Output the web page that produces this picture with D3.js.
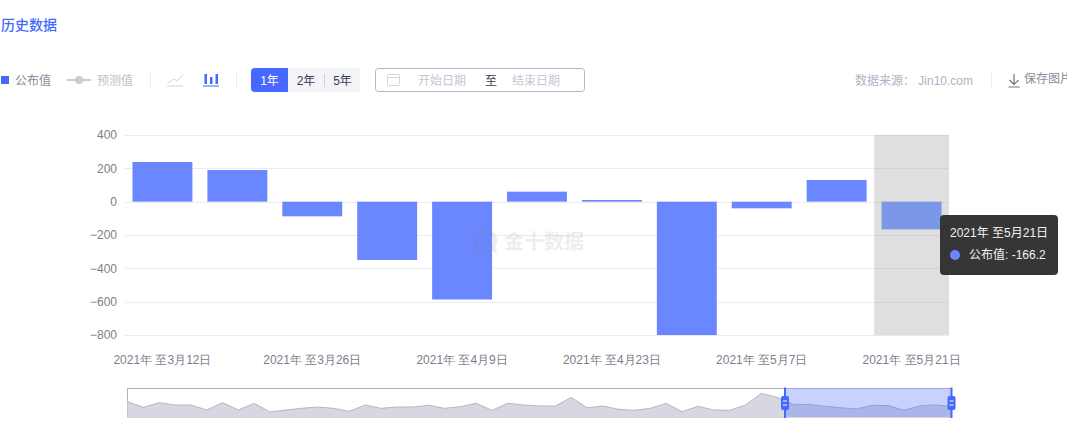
<!DOCTYPE html>
<html>
<head>
<meta charset="utf-8">
<style>
html, body { margin: 0; padding: 0; background: #fff; overflow: hidden; }
svg { display: block; font-family: "Liberation Sans", "Noto Sans CJK SC", sans-serif; }
.axis path, .axis line { display: none; }
.axis text { font-size: 12px; fill: #7c7e8c; }
</style>
<script src="https://cdn.jsdelivr.net/npm/d3@7/dist/d3.min.js"></script>
</head>
<body>
<svg id="chart" width="1067" height="438"></svg>
<script>
"use strict";

const dates = ["3月12日", "3月19日", "3月26日", "4月2日", "4月9日", "4月16日", "4月23日", "4月30日", "5月7日", "5月14日", "5月21日"];
const values = [238, 190, -88, -350, -587, 60, 10, -800, -40, 130, -166.2];
const yTicks = [400, 200, 0, -200, -400, -600, -800];
const olderValues = [700, -290, 520, 115, 115, -755, 520, -755, 405, -1105, -755, -465, -230, -465, -990, 115, -465, -230, -230, 60, -465, -175, 405, -815, 405, 115, -60, -60, 1450, -350, -60, -640, -815, -465, 405, -1045, -115, -755, -815, 115, 2150, 1450];
const rangeButtons = ["1年", "2年", "5年"];
const BLUE = "#4569ff";
const BAR = "#6b87ff";
const BAR_HOVER = "#7b98e6";

const svg = d3.select("#chart");

function label(parent, x, y, str, size, color, anchor) {
	return parent.append("text")
		.attr("x", x)
		.attr("y", y)
		.attr("dy", ".35em")
		.attr("font-size", size)
		.attr("fill", color)
		.attr("text-anchor", anchor || "start")
		.text(str);
}

function drawToolbar() {
	label(svg, 1, 25, "历史数据", 14, BLUE).attr("font-weight", 500);

	svg.append("rect").attr("x", 1).attr("y", 76).attr("width", 8).attr("height", 8).attr("fill", BLUE);
	label(svg, 15, 80.5, "公布值", 12, "#8a8c99");
	svg.append("line").attr("x1", 67).attr("x2", 91).attr("y1", 80).attr("y2", 80).attr("stroke", "#ccc").attr("stroke-width", 2);
	svg.append("circle").attr("cx", 79).attr("cy", 80).attr("r", 4).attr("fill", "#ccc");
	label(svg, 97, 80.5, "预测值", 12, "#c0c1cc");

	for (const x of [150, 236, 991]) {
		svg.append("line").attr("x1", x + .5).attr("x2", x + .5).attr("y1", 72).attr("y2", 88).attr("stroke", "#ececf0");
	}

	// line type icon
	svg.append("path").attr("d", "M168 83L174 79L177 81L183 75").attr("fill", "none").attr("stroke", "#d2d3da");
	svg.append("line").attr("x1", 167).attr("x2", 183).attr("y1", 86).attr("y2", 86).attr("stroke", "#d2d3da");

	// bar type icon
	for (const [x, top] of [[204.5, 74], [210, 77], [215.5, 74]]) {
		svg.append("rect").attr("x", x).attr("y", top).attr("width", 2.5).attr("height", 84 - top).attr("fill", BLUE);
	}
	svg.append("line").attr("x1", 203).attr("x2", 219).attr("y1", 86).attr("y2", 86).attr("stroke", BLUE);

	svg.append("rect").attr("x", 251).attr("y", 68).attr("width", 109).attr("height", 24).attr("rx", 4).attr("fill", "#f3f4f8");
	svg.append("path").attr("d", "M288 68H255a4 4 0 0 0 -4 4V88a4 4 0 0 0 4 4H288Z").attr("fill", BLUE);
	svg.append("line").attr("x1", 324.5).attr("x2", 324.5).attr("y1", 74).attr("y2", 87).attr("stroke", "#cfd0d8");
	rangeButtons.forEach((b, i) => {
		label(svg, 269.5 + i * 36.5, 80.5, b, 12, i === 0 ? "#fff" : "#3c3f50", "middle");
	});

	svg.append("rect").attr("x", 375.5).attr("y", 68.5).attr("width", 209).attr("height", 23).attr("rx", 3)
		.attr("fill", "#fff").attr("stroke", "#b4b5c6");
	svg.append("rect").attr("x", 387.5).attr("y", 74.5).attr("width", 12).attr("height", 11).attr("rx", 1)
		.attr("fill", "none").attr("stroke", "#d5d6de");
	svg.append("line").attr("x1", 388).attr("x2", 399).attr("y1", 77.5).attr("y2", 77.5).attr("stroke", "#d5d6de");
	label(svg, 418, 80.5, "开始日期", 12, "#c6c7d1");
	label(svg, 485, 80.5, "至", 12, "#3c3f50");
	label(svg, 512, 80.5, "结束日期", 12, "#c6c7d1");

	label(svg, 855, 80.5, "数据来源： Jin10.com", 12, "#b0b2c4");
	svg.append("path").attr("d", "M1014 74V84M1009.5 80L1014 84.5L1018.5 80M1008.5 87H1019.5").attr("fill", "none").attr("stroke", "#6f7180").attr("stroke-width", 1.2);
	label(svg, 1024, 78.5, "保存图片", 12, "#8a8c99");
}

function drawBars() {
	const x = d3.scaleBand().domain(dates).range([125, 949]).paddingInner(0.2).paddingOuter(0.1);
	const y = d3.scaleLinear().domain([-800, 400]).range([335, 135]);

	svg.append("g").selectAll("line").data(yTicks).join("line")
		.attr("x1", 125).attr("x2", 949)
		.attr("y1", d => Math.round(y(d)) + .5).attr("y2", d => Math.round(y(d)) + .5)
		.attr("stroke", "#ececef");

	// hover shadow on the last category
	const step = x.step();
	const last = dates[dates.length - 1];
	svg.append("rect")
		.attr("x", x(last) + x.bandwidth() / 2 - step / 2)
		.attr("width", step)
		.attr("y", 135).attr("height", 200)
		.attr("fill", "rgb(150,150,150)").attr("fill-opacity", .3);

	svg.append("g").selectAll("rect").data(dates).join("rect")
		.attr("x", d => x(d))
		.attr("width", x.bandwidth())
		.attr("y", (d, i) => y(Math.max(0, values[i])))
		.attr("height", (d, i) => Math.abs(y(values[i]) - y(0)))
		.attr("fill", d => d === last ? BAR_HOVER : BAR);

	svg.append("g").attr("class", "axis")
		.attr("transform", "translate(125,0)")
		.call(d3.axisLeft(y).tickValues(yTicks).tickSize(0).tickPadding(8))
		.select(".domain").remove();

	svg.append("g").attr("class", "axis")
		.attr("transform", "translate(0,335)")
		.call(d3.axisBottom(x).tickValues(dates.filter((d, i) => i % 2 === 0))
			.tickSize(0).tickPadding(20).tickFormat(d => `2021年 至${d}`))
		.select(".domain").remove();

	// watermark
	const mark = svg.append("g").attr("opacity", .13);
	mark.append("circle").attr("cx", 485).attr("cy", 241).attr("r", 10).attr("fill", "none").attr("stroke", "#767c9c").attr("stroke-width", 4);
	mark.append("path").attr("d", "M486 241L496 252").attr("stroke", "#767c9c").attr("stroke-width", 4);
	label(mark, 504, 242, "金十数据", 20, "#767c9c").attr("font-weight", "bold");

	// tooltip
	const tip = svg.append("g").attr("transform", "translate(940,215)");
	tip.append("rect").attr("width", 118).attr("height", 60).attr("rx", 4).attr("fill", "#2f2f2f").attr("fill-opacity", .97);
	label(tip, 10, 18, `2021年 至${last}`, 12, "#f2f2f2");
	tip.append("circle").attr("cx", 15).attr("cy", 40).attr("r", 5).attr("fill", BAR);
	label(tip, 29, 40, `公布值: ${values[values.length - 1]}`, 12, "#f2f2f2");
}

function drawOverview() {
	const all = olderValues.concat(values);
	const left = 127.5, right = 951.5, top = 388.5, bottom = 417;
	const x = d3.scaleLinear().domain([0, all.length - 1]).range([left, right]);
	const y = d3.scaleLinear().domain([-1980, 3000]).range([bottom, top]);
	const startX = 785, endX = right;

	svg.append("rect").attr("x", left).attr("y", top).attr("width", right - left).attr("height", bottom - top)
		.attr("fill", "#fff").attr("stroke", "#b0b2c8");

	svg.append("path")
		.attr("d", d3.area().x((d, i) => x(i)).y0(bottom).y1(d => y(d))(all))
		.attr("fill", "#d6d7e0");
	svg.append("path")
		.attr("d", d3.line().x((d, i) => x(i)).y(d => y(d))(all))
		.attr("fill", "none").attr("stroke", "#b5b7c6");

	svg.append("rect").attr("x", startX).attr("y", top).attr("width", endX - startX).attr("height", bottom - top)
		.attr("fill", "#4569ff").attr("fill-opacity", .3);

	for (const hx of [startX, endX]) {
		svg.append("line").attr("x1", hx).attr("x2", hx).attr("y1", top - 1).attr("y2", bottom + 1).attr("stroke", BLUE).attr("stroke-width", 2);
		svg.append("rect").attr("x", hx - 4).attr("y", 396).attr("width", 8).attr("height", 14).attr("rx", 2).attr("fill", BLUE);
		for (const ly of [401, 405]) {
			svg.append("line").attr("x1", hx - 2).attr("x2", hx + 2).attr("y1", ly).attr("y2", ly).attr("stroke", "#fff");
		}
	}
}

drawToolbar();
drawBars();
drawOverview();
</script>
</body>
</html>
